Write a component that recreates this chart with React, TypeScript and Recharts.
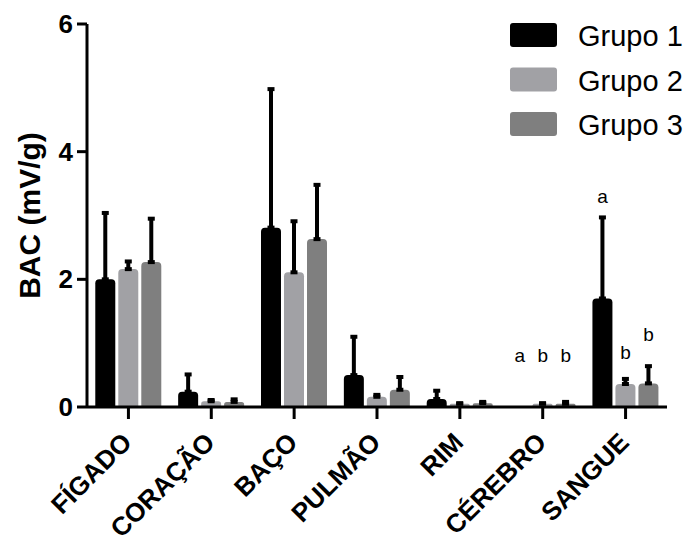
import React from 'react';
import { BarChart, Bar, XAxis, YAxis, ErrorBar, Legend, ReferenceDot } from 'recharts';

const organs = ['FÍGADO', 'CORAÇÃO', 'BAÇO', 'PULMÃO', 'RIM', 'CÉREBRO', 'SANGUE'];
const grupo1 = [2.0, 0.24, 2.81, 0.5, 0.125, 0, 1.7];
const grupo1Err = [1.04, 0.27, 2.17, 0.6, 0.13, null, 1.27];
const grupo2 = [2.16, 0.09, 2.11, 0.16, 0.05, 0.05, 0.36];
const grupo2Err = [0.12, 0.02, 0.8, 0.03, 0.01, 0.01, 0.08];
const grupo3 = [2.27, 0.08, 2.63, 0.27, 0.06, 0.05, 0.37];
const grupo3Err = [0.68, 0.04, 0.85, 0.2, 0.02, 0.03, 0.27];
const seriesNames = ['Grupo 1', 'Grupo 2', 'Grupo 3'];
const seriesColors = ['#000000', '#a1a1a5', '#7f7f7f'];
const yTicks = [0, 2, 4, 6];
const yLabel = 'BAC (mV/g)';

// significance letters: organ, group index, letter, level (in y units)
const annOrgans = ['CÉREBRO', 'CÉREBRO', 'CÉREBRO', 'SANGUE', 'SANGUE', 'SANGUE'];
const annGroups = [0, 1, 2, 0, 1, 2];
const annLetters = ['a', 'b', 'b', 'a', 'b', 'b'];
const annLevels = [0.8, 0.8, 0.8, 3.3, 0.86, 1.13];

const FONT = '"Liberation Sans", Arial, Helvetica, sans-serif';

const data = organs.map((o, i) => ({
  organ: o,
  g1: grupo1[i],
  g1e: grupo1Err[i] == null ? null : [0, grupo1Err[i]],
  g2: grupo2[i],
  g2e: grupo2Err[i] == null ? null : [0, grupo2Err[i]],
  g3: grupo3[i],
  g3e: grupo3Err[i] == null ? null : [0, grupo3Err[i]],
}));

const XTick = (props: any) => {
  const { x, y, payload } = props;
  const ax = x + 5;
  const ay = y + 23;
  return (
    <text
      x={ax}
      y={ay}
      transform={`rotate(-45 ${ax} ${ay})`}
      textAnchor="end"
      fontSize={26}
      fontWeight="bold"
      fontFamily={FONT}
      fill="#000"
    >
      {payload.value}
    </text>
  );
};

const YTick = (props: any) => {
  const { x, y, payload } = props;
  return (
    <text
      x={x}
      y={y}
      textAnchor="end"
      dominantBaseline="central"
      fontSize={26}
      fontWeight="bold"
      fontFamily={FONT}
      fill="#000"
    >
      {payload.value}
    </text>
  );
};

const renderYLabel = (props: any) => {
  const vb = props && props.viewBox ? props.viewBox : { x: 0, y: 24, width: 87, height: 383 };
  const cx = vb.x + 29;
  const cy = vb.y + vb.height / 2;
  return (
    <text
      x={cx}
      y={cy}
      transform={`rotate(-90 ${cx} ${cy})`}
      textAnchor="middle"
      dominantBaseline="central"
      fontSize={30}
      fontWeight="bold"
      fontFamily={FONT}
      fill="#000"
    >
      {yLabel}
    </text>
  );
};

const renderLegend = (props: any) => {
  const payload = props.payload || [];
  return (
    <svg width={693} height={150} style={{ display: 'block' }}>
      {payload.map((entry: any, i: number) => (
        <g key={entry.value}>
          <rect x={510} y={23 + i * 44.5} width={47} height={24} rx={3} fill={entry.color} />
          <text x={578} y={46 + i * 44.5} fontSize={29} fontFamily={FONT} fill="#000">
            {entry.value}
          </text>
        </g>
      ))}
    </svg>
  );
};

const barOffsets = [-23, 0, 23];

const makeLetterLabel = (letter: string, dx: number) => (props: any) => {
  const vb = props.viewBox || { x: 0, y: 0, width: 0, height: 0 };
  const cx = vb.x + (vb.width || 0) / 2 + dx;
  const cy = vb.y + (vb.height || 0) / 2;
  return (
    <text
      x={cx}
      y={cy}
      textAnchor="middle"
      dominantBaseline="central"
      fontSize={19}
      fontFamily={FONT}
      fill="#000"
    >
      {letter}
    </text>
  );
};

export default function App() {
  return (
    <div style={{ position: 'absolute', left: 0, top: 0, width: 693, height: 545, background: '#fff' }}>
      <BarChart
        width={693}
        height={545}
        data={data}
        margin={{ top: 24, right: 26, bottom: 8, left: 0 }}
        barCategoryGap="10%"
        barGap={3}
      >
        <XAxis
          dataKey="organ"
          height={130}
          axisLine={{ stroke: '#000', strokeWidth: 3 }}
          tickLine={{ stroke: '#000', strokeWidth: 3 }}
          tickSize={12}
          interval={0}
          tick={<XTick />}
        />
        <YAxis
          width={87}
          domain={[0, 6]}
          ticks={yTicks}
          axisLine={{ stroke: '#000', strokeWidth: 3 }}
          tickLine={{ stroke: '#000', strokeWidth: 3 }}
          tickSize={10}
          tickMargin={4}
          tick={<YTick />}
          label={renderYLabel}
        />
        <Legend
          layout="vertical"
          align="center"
          verticalAlign="middle"
          content={renderLegend}
          wrapperStyle={{ left: 0, top: 0, width: 693, height: 150 }}
        />
        <Bar dataKey="g1" name={seriesNames[0]} fill={seriesColors[0]} radius={[4, 4, 0, 0]} isAnimationActive={false}>
          <ErrorBar dataKey="g1e" direction="y" width={3.5} strokeWidth={4} stroke="#000" isAnimationActive={false} />
        </Bar>
        <Bar dataKey="g2" name={seriesNames[1]} fill={seriesColors[1]} radius={[4, 4, 0, 0]} isAnimationActive={false}>
          <ErrorBar dataKey="g2e" direction="y" width={3.5} strokeWidth={4} stroke="#000" isAnimationActive={false} />
        </Bar>
        <Bar dataKey="g3" name={seriesNames[2]} fill={seriesColors[2]} radius={[4, 4, 0, 0]} isAnimationActive={false}>
          <ErrorBar dataKey="g3e" direction="y" width={3.5} strokeWidth={4} stroke="#000" isAnimationActive={false} />
        </Bar>
        {annLetters.map((letter, i) => (
          <ReferenceDot
            key={`ann-${i}`}
            x={annOrgans[i]}
            y={annLevels[i]}
            r={0}
            fill="none"
            stroke="none"
            label={makeLetterLabel(letter, barOffsets[annGroups[i]])}
          />
        ))}
      </BarChart>
    </div>
  );
}
